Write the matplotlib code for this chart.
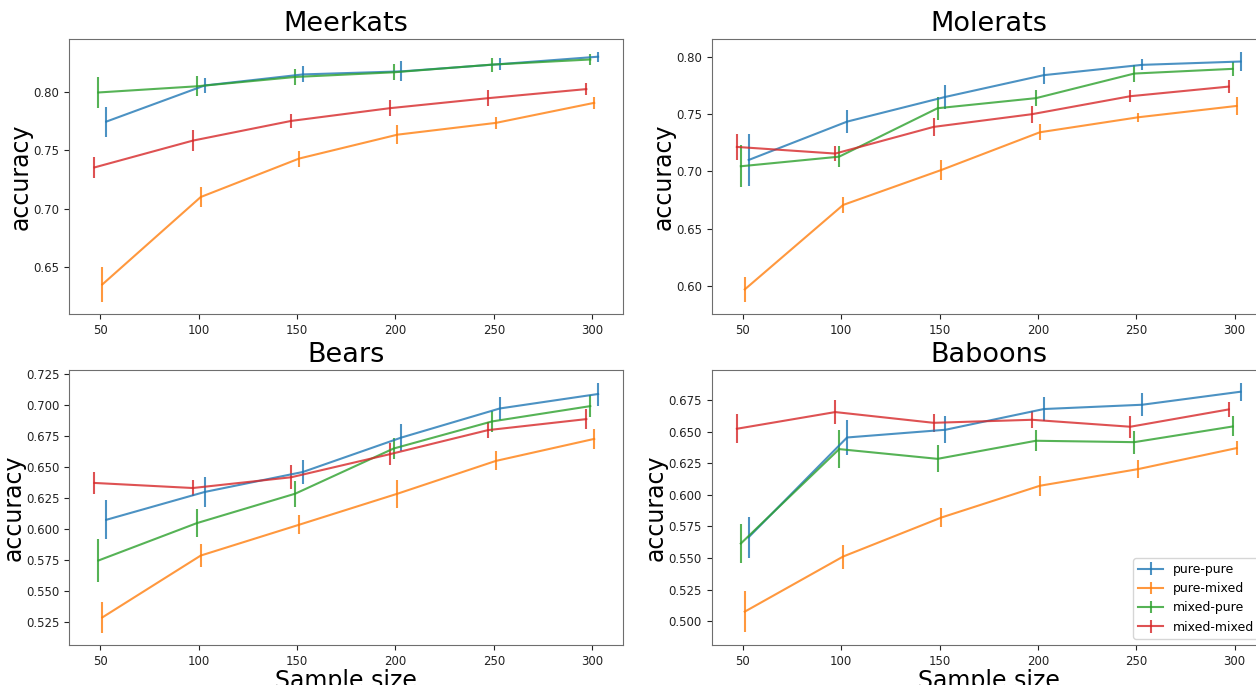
import matplotlib
matplotlib.use("Agg")
import matplotlib.pyplot as plt
import numpy as np

sample_sizes = [50, 100, 150, 200, 250, 300]
series_names = ["pure-pure", "pure-mixed", "mixed-pure", "mixed-mixed"]
x_offsets = [3, 1, -1, -3]
colors = ["#1f77b4", "#ff7f0e", "#2ca02c", "#d62728"]

# Meerkats
meerkats_pp = [0.7747, 0.8057, 0.8152, 0.8178, 0.8240, 0.8304]
meerkats_pp_err = [0.0129, 0.0066, 0.0069, 0.0085, 0.0053, 0.0042]
meerkats_pm = [0.6350, 0.7100, 0.7430, 0.7635, 0.7736, 0.7908]
meerkats_pm_err = [0.0149, 0.0088, 0.0069, 0.0083, 0.0050, 0.0053]
meerkats_mp = [0.7997, 0.8050, 0.8130, 0.8170, 0.8236, 0.8280]
meerkats_mp_err = [0.0136, 0.0086, 0.0067, 0.0069, 0.0060, 0.0050]
meerkats_mm = [0.7354, 0.7584, 0.7753, 0.7862, 0.7948, 0.8026]
meerkats_mm_err = [0.0093, 0.0089, 0.0060, 0.0067, 0.0066, 0.0053]

# Molerats
molerats_pp = [0.7099, 0.7434, 0.7650, 0.7840, 0.7930, 0.7959]
molerats_pp_err = [0.0229, 0.0099, 0.0106, 0.0073, 0.0048, 0.0085]
molerats_pm = [0.5968, 0.6706, 0.7012, 0.7341, 0.7472, 0.7571]
molerats_pm_err = [0.0108, 0.0071, 0.0089, 0.0070, 0.0039, 0.0082]
molerats_mp = [0.7044, 0.7128, 0.7551, 0.7639, 0.7854, 0.7895]
molerats_mp_err = [0.0182, 0.0090, 0.0099, 0.0071, 0.0073, 0.0060]
molerats_mm = [0.7213, 0.7155, 0.7388, 0.7499, 0.7656, 0.7740]
molerats_mm_err = [0.0115, 0.0063, 0.0077, 0.0074, 0.0052, 0.0055]

# Bears
bears_pp = [0.6074, 0.6299, 0.6461, 0.6739, 0.6974, 0.7091]
bears_pp_err = [0.0159, 0.0124, 0.0095, 0.0111, 0.0092, 0.0093]
bears_pm = [0.5285, 0.5785, 0.6034, 0.6285, 0.6550, 0.6728]
bears_pm_err = [0.0122, 0.0092, 0.0077, 0.0114, 0.0077, 0.0081]
bears_mp = [0.5745, 0.6047, 0.6285, 0.6650, 0.6869, 0.6993]
bears_mp_err = [0.0177, 0.0115, 0.0104, 0.0088, 0.0088, 0.0086]
bears_mm = [0.6372, 0.6331, 0.6418, 0.6604, 0.6799, 0.6888]
bears_mm_err = [0.0092, 0.0062, 0.0096, 0.0090, 0.0064, 0.0078]

# Baboons
baboons_pp = [0.5665, 0.6454, 0.6515, 0.6679, 0.6713, 0.6816]
baboons_pp_err = [0.0161, 0.0135, 0.0106, 0.0096, 0.0092, 0.0073]
baboons_pm = [0.5076, 0.5512, 0.5821, 0.6072, 0.6204, 0.6370]
baboons_pm_err = [0.0165, 0.0095, 0.0077, 0.0079, 0.0073, 0.0057]
baboons_mp = [0.5615, 0.6362, 0.6285, 0.6428, 0.6417, 0.6541]
baboons_mp_err = [0.0152, 0.0149, 0.0106, 0.0082, 0.0091, 0.0079]
baboons_mm = [0.6523, 0.6655, 0.6570, 0.6594, 0.6539, 0.6676]
baboons_mm_err = [0.0115, 0.0098, 0.0069, 0.0066, 0.0086, 0.0061]

titles = ["Meerkats", "Molerats", "Bears", "Baboons"]
panels = [
    ([meerkats_pp, meerkats_pm, meerkats_mp, meerkats_mm],
     [meerkats_pp_err, meerkats_pm_err, meerkats_mp_err, meerkats_mm_err]),
    ([molerats_pp, molerats_pm, molerats_mp, molerats_mm],
     [molerats_pp_err, molerats_pm_err, molerats_mp_err, molerats_mm_err]),
    ([bears_pp, bears_pm, bears_mp, bears_mm],
     [bears_pp_err, bears_pm_err, bears_mp_err, bears_mm_err]),
    ([baboons_pp, baboons_pm, baboons_mp, baboons_mm],
     [baboons_pp_err, baboons_pm_err, baboons_mp_err, baboons_mm_err]),
]

W, H = 1256, 685
fig = plt.figure(figsize=(W / 100, H / 100), dpi=100)
lefts = [69.3, 711.7]
tops = [39.3, 370.0]
aw, ah = 554.0, 275.0
positions = [(lefts[0], tops[0]), (lefts[1], tops[0]), (lefts[0], tops[1]), (lefts[1], tops[1])]

for i, (title, (vals, errs)) in enumerate(zip(titles, panels)):
    lx, ty = positions[i]
    ax = fig.add_axes([lx / W, 1 - (ty + ah) / H, aw / W, ah / H])
    for name, off, c, v, e in zip(series_names, x_offsets, colors, vals, errs):
        xs = np.array(sample_sizes) + off
        ax.errorbar(xs, v, yerr=e, color=c, alpha=0.8, lw=1.5, elinewidth=1.5,
                    capsize=0, label=name)
    ax.set_title(title, fontsize=19.5, pad=6)
    ax.set_ylabel("accuracy", fontsize=17, labelpad=0.5)
    if i >= 2:
        ax.set_xlabel("Sample size", fontsize=17, labelpad=1)
    ax.set_xticks(sample_sizes)
    ax.tick_params(labelsize=8.5, colors="#222222")
    for s in ax.spines.values():
        s.set_color("#6e6e6e")
    if i == 3:
        ax.legend(loc="lower right", fontsize=9)

fig.savefig("out.png", dpi=100)
